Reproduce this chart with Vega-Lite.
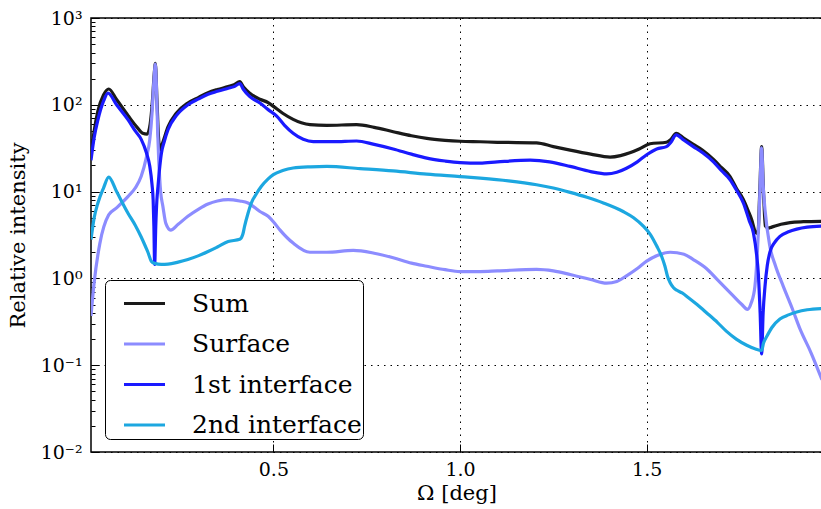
{
  "$schema": "https://vega.github.io/schema/vega-lite/v6.json",
  "width": 731,
  "height": 434,
  "autosize": {"type": "none"},
  "padding": {"left": 91, "top": 18, "right": 0, "bottom": 57},
  "background": "white",
  "config": {
    "view": {"stroke": "black", "strokeWidth": 1.5},
    "font": "DejaVu Serif"
  },
  "datasets": {
    "curves": [
      {"x":0.0115,"y":26,"s":"Sum"},{"x":0.02,"y":50,"s":"Sum"},{"x":0.03,"y":85,"s":"Sum"},{"x":0.045,"y":130,"s":"Sum"},{"x":0.059,"y":152,"s":"Sum"},{"x":0.08,"y":115,"s":"Sum"},{"x":0.111,"y":75,"s":"Sum"},{"x":0.135,"y":55,"s":"Sum"},{"x":0.15,"y":47,"s":"Sum"},{"x":0.162,"y":46,"s":"Sum"},{"x":0.17,"y":60,"s":"Sum"},{"x":0.176,"y":110,"s":"Sum"},{"x":0.181,"y":230,"s":"Sum"},{"x":0.184,"y":300,"s":"Sum"},{"x":0.188,"y":120,"s":"Sum"},{"x":0.192,"y":45,"s":"Sum"},{"x":0.196,"y":30,"s":"Sum"},{"x":0.203,"y":36,"s":"Sum"},{"x":0.218,"y":56,"s":"Sum"},{"x":0.24,"y":80,"s":"Sum"},{"x":0.271,"y":105,"s":"Sum"},{"x":0.3,"y":122,"s":"Sum"},{"x":0.325,"y":138,"s":"Sum"},{"x":0.35,"y":150,"s":"Sum"},{"x":0.379,"y":162,"s":"Sum"},{"x":0.395,"y":170,"s":"Sum"},{"x":0.41,"y":185,"s":"Sum"},{"x":0.42,"y":160,"s":"Sum"},{"x":0.437,"y":136,"s":"Sum"},{"x":0.464,"y":116,"s":"Sum"},{"x":0.486,"y":106,"s":"Sum"},{"x":0.5,"y":96,"s":"Sum"},{"x":0.525,"y":80,"s":"Sum"},{"x":0.553,"y":68,"s":"Sum"},{"x":0.575,"y":62,"s":"Sum"},{"x":0.598,"y":59,"s":"Sum"},{"x":0.643,"y":58,"s":"Sum"},{"x":0.723,"y":59,"s":"Sum"},{"x":0.77,"y":55,"s":"Sum"},{"x":0.821,"y":49,"s":"Sum"},{"x":0.87,"y":44,"s":"Sum"},{"x":0.911,"y":41,"s":"Sum"},{"x":0.96,"y":39,"s":"Sum"},{"x":1.0,"y":38,"s":"Sum"},{"x":1.054,"y":37.5,"s":"Sum"},{"x":1.1,"y":37,"s":"Sum"},{"x":1.205,"y":36.5,"s":"Sum"},{"x":1.25,"y":33,"s":"Sum"},{"x":1.295,"y":30,"s":"Sum"},{"x":1.35,"y":27,"s":"Sum"},{"x":1.402,"y":25,"s":"Sum"},{"x":1.43,"y":26,"s":"Sum"},{"x":1.455,"y":28,"s":"Sum"},{"x":1.48,"y":31,"s":"Sum"},{"x":1.509,"y":35.6,"s":"Sum"},{"x":1.553,"y":37,"s":"Sum"},{"x":1.565,"y":40,"s":"Sum"},{"x":1.579,"y":47,"s":"Sum"},{"x":1.6,"y":41,"s":"Sum"},{"x":1.625,"y":35,"s":"Sum"},{"x":1.65,"y":30,"s":"Sum"},{"x":1.679,"y":23.5,"s":"Sum"},{"x":1.7,"y":19,"s":"Sum"},{"x":1.723,"y":15,"s":"Sum"},{"x":1.74,"y":11,"s":"Sum"},{"x":1.759,"y":8.1,"s":"Sum"},{"x":1.772,"y":6,"s":"Sum"},{"x":1.781,"y":4.8,"s":"Sum"},{"x":1.792,"y":3.4,"s":"Sum"},{"x":1.798,"y":3.3,"s":"Sum"},{"x":1.803,"y":10,"s":"Sum"},{"x":1.808,"y":33,"s":"Sum"},{"x":1.813,"y":10,"s":"Sum"},{"x":1.818,"y":4.0,"s":"Sum"},{"x":1.826,"y":3.8,"s":"Sum"},{"x":1.835,"y":3.9,"s":"Sum"},{"x":1.86,"y":4.2,"s":"Sum"},{"x":1.884,"y":4.4,"s":"Sum"},{"x":1.92,"y":4.5,"s":"Sum"},{"x":1.9697,"y":4.55,"s":"Sum"},

      {"x":0.0115,"y":0.37,"s":"Surface"},{"x":0.02,"y":0.9,"s":"Surface"},{"x":0.035,"y":2.5,"s":"Surface"},{"x":0.059,"y":5.4,"s":"Surface"},{"x":0.08,"y":6.5,"s":"Surface"},{"x":0.111,"y":8.8,"s":"Surface"},{"x":0.13,"y":11,"s":"Surface"},{"x":0.146,"y":15,"s":"Surface"},{"x":0.16,"y":25,"s":"Surface"},{"x":0.169,"y":40,"s":"Surface"},{"x":0.175,"y":80,"s":"Surface"},{"x":0.178,"y":136,"s":"Surface"},{"x":0.181,"y":220,"s":"Surface"},{"x":0.184,"y":295,"s":"Surface"},{"x":0.187,"y":150,"s":"Surface"},{"x":0.19,"y":50,"s":"Surface"},{"x":0.193,"y":23,"s":"Surface"},{"x":0.198,"y":10,"s":"Surface"},{"x":0.204,"y":6.8,"s":"Surface"},{"x":0.212,"y":4.3,"s":"Surface"},{"x":0.225,"y":3.6,"s":"Surface"},{"x":0.245,"y":4.2,"s":"Surface"},{"x":0.271,"y":5.2,"s":"Surface"},{"x":0.3,"y":6.3,"s":"Surface"},{"x":0.325,"y":7.2,"s":"Surface"},{"x":0.35,"y":7.8,"s":"Surface"},{"x":0.379,"y":8.1,"s":"Surface"},{"x":0.41,"y":7.8,"s":"Surface"},{"x":0.432,"y":7.4,"s":"Surface"},{"x":0.464,"y":5.9,"s":"Surface"},{"x":0.486,"y":5.2,"s":"Surface"},{"x":0.5,"y":4.5,"s":"Surface"},{"x":0.518,"y":3.6,"s":"Surface"},{"x":0.553,"y":2.55,"s":"Surface"},{"x":0.598,"y":2.0,"s":"Surface"},{"x":0.643,"y":2.0,"s":"Surface"},{"x":0.714,"y":2.1,"s":"Surface"},{"x":0.77,"y":1.95,"s":"Surface"},{"x":0.821,"y":1.73,"s":"Surface"},{"x":0.87,"y":1.5,"s":"Surface"},{"x":0.911,"y":1.38,"s":"Surface"},{"x":0.96,"y":1.26,"s":"Surface"},{"x":1.0,"y":1.2,"s":"Surface"},{"x":1.054,"y":1.2,"s":"Surface"},{"x":1.1,"y":1.22,"s":"Surface"},{"x":1.205,"y":1.27,"s":"Surface"},{"x":1.25,"y":1.22,"s":"Surface"},{"x":1.295,"y":1.11,"s":"Surface"},{"x":1.35,"y":0.97,"s":"Surface"},{"x":1.393,"y":0.88,"s":"Surface"},{"x":1.42,"y":0.92,"s":"Surface"},{"x":1.446,"y":1.07,"s":"Surface"},{"x":1.475,"y":1.3,"s":"Surface"},{"x":1.5,"y":1.58,"s":"Surface"},{"x":1.53,"y":1.85,"s":"Surface"},{"x":1.563,"y":2.0,"s":"Surface"},{"x":1.6,"y":1.9,"s":"Surface"},{"x":1.625,"y":1.65,"s":"Surface"},{"x":1.66,"y":1.3,"s":"Surface"},{"x":1.688,"y":0.98,"s":"Surface"},{"x":1.732,"y":0.63,"s":"Surface"},{"x":1.755,"y":0.5,"s":"Surface"},{"x":1.77,"y":0.44,"s":"Surface"},{"x":1.78,"y":0.52,"s":"Surface"},{"x":1.79,"y":0.81,"s":"Surface"},{"x":1.796,"y":1.8,"s":"Surface"},{"x":1.8,"y":4,"s":"Surface"},{"x":1.804,"y":12,"s":"Surface"},{"x":1.808,"y":32,"s":"Surface"},{"x":1.812,"y":12,"s":"Surface"},{"x":1.817,"y":6.2,"s":"Surface"},{"x":1.83,"y":2.35,"s":"Surface"},{"x":1.845,"y":1.4,"s":"Surface"},{"x":1.866,"y":0.81,"s":"Surface"},{"x":1.89,"y":0.45,"s":"Surface"},{"x":1.911,"y":0.26,"s":"Surface"},{"x":1.94,"y":0.14,"s":"Surface"},{"x":1.9697,"y":0.068,"s":"Surface"},

      {"x":0.0115,"y":23,"s":"1st interface"},{"x":0.02,"y":42,"s":"1st interface"},{"x":0.03,"y":67,"s":"1st interface"},{"x":0.045,"y":110,"s":"1st interface"},{"x":0.057,"y":136,"s":"1st interface"},{"x":0.08,"y":100,"s":"1st interface"},{"x":0.111,"y":67,"s":"1st interface"},{"x":0.13,"y":50,"s":"1st interface"},{"x":0.146,"y":40,"s":"1st interface"},{"x":0.16,"y":28,"s":"1st interface"},{"x":0.169,"y":19.6,"s":"1st interface"},{"x":0.175,"y":12,"s":"1st interface"},{"x":0.178,"y":8,"s":"1st interface"},{"x":0.18,"y":4,"s":"1st interface"},{"x":0.182,"y":1.45,"s":"1st interface"},{"x":0.185,"y":4,"s":"1st interface"},{"x":0.188,"y":8,"s":"1st interface"},{"x":0.191,"y":11.5,"s":"1st interface"},{"x":0.195,"y":18,"s":"1st interface"},{"x":0.2,"y":27.5,"s":"1st interface"},{"x":0.208,"y":38,"s":"1st interface"},{"x":0.218,"y":52,"s":"1st interface"},{"x":0.24,"y":75,"s":"1st interface"},{"x":0.271,"y":100,"s":"1st interface"},{"x":0.3,"y":117,"s":"1st interface"},{"x":0.325,"y":132,"s":"1st interface"},{"x":0.35,"y":143,"s":"1st interface"},{"x":0.379,"y":155,"s":"1st interface"},{"x":0.395,"y":162,"s":"1st interface"},{"x":0.41,"y":175,"s":"1st interface"},{"x":0.42,"y":150,"s":"1st interface"},{"x":0.437,"y":124,"s":"1st interface"},{"x":0.464,"y":105,"s":"1st interface"},{"x":0.486,"y":88,"s":"1st interface"},{"x":0.509,"y":74,"s":"1st interface"},{"x":0.53,"y":58,"s":"1st interface"},{"x":0.553,"y":47,"s":"1st interface"},{"x":0.58,"y":40,"s":"1st interface"},{"x":0.607,"y":37.6,"s":"1st interface"},{"x":0.66,"y":37.6,"s":"1st interface"},{"x":0.723,"y":38.3,"s":"1st interface"},{"x":0.77,"y":35,"s":"1st interface"},{"x":0.821,"y":31,"s":"1st interface"},{"x":0.87,"y":27,"s":"1st interface"},{"x":0.911,"y":24.3,"s":"1st interface"},{"x":0.96,"y":22.5,"s":"1st interface"},{"x":1.0,"y":21.6,"s":"1st interface"},{"x":1.054,"y":21.3,"s":"1st interface"},{"x":1.1,"y":22,"s":"1st interface"},{"x":1.188,"y":23,"s":"1st interface"},{"x":1.24,"y":22,"s":"1st interface"},{"x":1.295,"y":19.5,"s":"1st interface"},{"x":1.35,"y":17,"s":"1st interface"},{"x":1.393,"y":16,"s":"1st interface"},{"x":1.42,"y":16.7,"s":"1st interface"},{"x":1.446,"y":18.6,"s":"1st interface"},{"x":1.475,"y":22,"s":"1st interface"},{"x":1.5,"y":26.6,"s":"1st interface"},{"x":1.527,"y":31,"s":"1st interface"},{"x":1.553,"y":33,"s":"1st interface"},{"x":1.565,"y":37,"s":"1st interface"},{"x":1.579,"y":45,"s":"1st interface"},{"x":1.6,"y":39,"s":"1st interface"},{"x":1.625,"y":33,"s":"1st interface"},{"x":1.65,"y":28,"s":"1st interface"},{"x":1.679,"y":22,"s":"1st interface"},{"x":1.7,"y":17.5,"s":"1st interface"},{"x":1.723,"y":13.8,"s":"1st interface"},{"x":1.74,"y":10.5,"s":"1st interface"},{"x":1.759,"y":7.4,"s":"1st interface"},{"x":1.775,"y":4.6,"s":"1st interface"},{"x":1.786,"y":3.35,"s":"1st interface"},{"x":1.795,"y":1.8,"s":"1st interface"},{"x":1.799,"y":1.16,"s":"1st interface"},{"x":1.804,"y":0.4,"s":"1st interface"},{"x":1.808,"y":0.135,"s":"1st interface"},{"x":1.812,"y":0.4,"s":"1st interface"},{"x":1.817,"y":0.81,"s":"1st interface"},{"x":1.823,"y":1.4,"s":"1st interface"},{"x":1.83,"y":2.0,"s":"1st interface"},{"x":1.843,"y":2.6,"s":"1st interface"},{"x":1.857,"y":3.05,"s":"1st interface"},{"x":1.88,"y":3.45,"s":"1st interface"},{"x":1.902,"y":3.7,"s":"1st interface"},{"x":1.93,"y":3.9,"s":"1st interface"},{"x":1.9697,"y":4.0,"s":"1st interface"},

      {"x":0.0115,"y":2.8,"s":"2nd interface"},{"x":0.02,"y":5.0,"s":"2nd interface"},{"x":0.03,"y":7.4,"s":"2nd interface"},{"x":0.045,"y":11,"s":"2nd interface"},{"x":0.059,"y":14.7,"s":"2nd interface"},{"x":0.08,"y":10,"s":"2nd interface"},{"x":0.111,"y":5.6,"s":"2nd interface"},{"x":0.13,"y":4.1,"s":"2nd interface"},{"x":0.146,"y":3.0,"s":"2nd interface"},{"x":0.158,"y":2.3,"s":"2nd interface"},{"x":0.164,"y":2.0,"s":"2nd interface"},{"x":0.173,"y":1.58,"s":"2nd interface"},{"x":0.182,"y":1.49,"s":"2nd interface"},{"x":0.2,"y":1.45,"s":"2nd interface"},{"x":0.218,"y":1.46,"s":"2nd interface"},{"x":0.245,"y":1.54,"s":"2nd interface"},{"x":0.271,"y":1.65,"s":"2nd interface"},{"x":0.3,"y":1.83,"s":"2nd interface"},{"x":0.325,"y":2.04,"s":"2nd interface"},{"x":0.35,"y":2.3,"s":"2nd interface"},{"x":0.379,"y":2.66,"s":"2nd interface"},{"x":0.41,"y":2.82,"s":"2nd interface"},{"x":0.418,"y":3.2,"s":"2nd interface"},{"x":0.423,"y":4.0,"s":"2nd interface"},{"x":0.432,"y":5.6,"s":"2nd interface"},{"x":0.441,"y":7.4,"s":"2nd interface"},{"x":0.455,"y":9.5,"s":"2nd interface"},{"x":0.468,"y":11.5,"s":"2nd interface"},{"x":0.486,"y":14,"s":"2nd interface"},{"x":0.5,"y":15.7,"s":"2nd interface"},{"x":0.525,"y":17.5,"s":"2nd interface"},{"x":0.553,"y":18.7,"s":"2nd interface"},{"x":0.6,"y":19.3,"s":"2nd interface"},{"x":0.643,"y":19.5,"s":"2nd interface"},{"x":0.732,"y":18.4,"s":"2nd interface"},{"x":0.821,"y":17.3,"s":"2nd interface"},{"x":0.911,"y":15.9,"s":"2nd interface"},{"x":1.0,"y":14.9,"s":"2nd interface"},{"x":1.054,"y":14.3,"s":"2nd interface"},{"x":1.13,"y":13.3,"s":"2nd interface"},{"x":1.205,"y":12,"s":"2nd interface"},{"x":1.25,"y":11,"s":"2nd interface"},{"x":1.295,"y":9.8,"s":"2nd interface"},{"x":1.34,"y":8.6,"s":"2nd interface"},{"x":1.384,"y":7.4,"s":"2nd interface"},{"x":1.437,"y":5.9,"s":"2nd interface"},{"x":1.465,"y":5,"s":"2nd interface"},{"x":1.491,"y":4.0,"s":"2nd interface"},{"x":1.51,"y":3.2,"s":"2nd interface"},{"x":1.527,"y":2.36,"s":"2nd interface"},{"x":1.54,"y":1.8,"s":"2nd interface"},{"x":1.549,"y":1.38,"s":"2nd interface"},{"x":1.556,"y":1.05,"s":"2nd interface"},{"x":1.563,"y":0.89,"s":"2nd interface"},{"x":1.572,"y":0.78,"s":"2nd interface"},{"x":1.581,"y":0.73,"s":"2nd interface"},{"x":1.595,"y":0.68,"s":"2nd interface"},{"x":1.612,"y":0.6,"s":"2nd interface"},{"x":1.635,"y":0.5,"s":"2nd interface"},{"x":1.661,"y":0.4,"s":"2nd interface"},{"x":1.69,"y":0.31,"s":"2nd interface"},{"x":1.714,"y":0.245,"s":"2nd interface"},{"x":1.74,"y":0.2,"s":"2nd interface"},{"x":1.768,"y":0.17,"s":"2nd interface"},{"x":1.79,"y":0.155,"s":"2nd interface"},{"x":1.808,"y":0.148,"s":"2nd interface"},{"x":1.813,"y":0.18,"s":"2nd interface"},{"x":1.822,"y":0.215,"s":"2nd interface"},{"x":1.835,"y":0.27,"s":"2nd interface"},{"x":1.857,"y":0.34,"s":"2nd interface"},{"x":1.88,"y":0.38,"s":"2nd interface"},{"x":1.902,"y":0.41,"s":"2nd interface"},{"x":1.93,"y":0.435,"s":"2nd interface"},{"x":1.9697,"y":0.45,"s":"2nd interface"}
    ]
  },
  "data": {"name": "curves"},
  "mark": {"type": "line", "strokeWidth": 3.2, "interpolate": "monotone", "clip": true, "strokeCap": "butt", "strokeJoin": "round"},
  "encoding": {
    "x": {
      "field": "x", "type": "quantitative",
      "scale": {"domain": [0.0115, 1.9697], "nice": false, "zero": false},
      "axis": {
        "title": "Ω [deg]", "values": [0.5, 1.0, 1.5], "format": ".1f",
        "domain": false, "grid": true, "gridColor": "black", "gridDash": [1.5, 5], "gridWidth": 1, "gridOpacity": 1,
        "tickSize": -8, "tickColor": "black", "tickWidth": 1,
        "labelFontSize": 19, "labelColor": "black", "labelPadding": 16,
        "titleFontSize": 21, "titleFontWeight": "normal", "titleColor": "black", "titlePadding": 3
      }
    },
    "y": {
      "field": "y", "type": "quantitative",
      "scale": {"type": "log", "domain": [0.01, 1000], "nice": false},
      "axis": {
        "title": "Relative intensity",
        "values": [0.01,0.02,0.03,0.04,0.05,0.06,0.07,0.08,0.09,0.1,0.2,0.3,0.4,0.5,0.6,0.7,0.8,0.9,1,2,3,4,5,6,7,8,9,10,20,30,40,50,60,70,80,90,100,200,300,400,500,600,700,800,900,1000],
        "labelExpr": "datum.value==1000?'10³':datum.value==100?'10²':datum.value==10?'10¹':datum.value==1?'10⁰':datum.value==0.1?'10⁻¹':datum.value==0.01?'10⁻²':''",
        "labelOverlap": false,
        "domain": false, "grid": true, "gridColor": "black", "gridDash": [1.5, 5], "gridWidth": 1,
        "gridOpacity": {"condition": {"test": "indexof([0.01,0.1,1,10,100,1000], datum.value) >= 0", "value": 1}, "value": 0},
        "tickSize": {"condition": {"test": "indexof([0.01,0.1,1,10,100,1000], datum.value) >= 0", "value": -8}, "value": -4},
        "tickColor": "black", "tickWidth": 1,
        "labelFontSize": 19, "labelColor": "black", "labelPadding": 17,
        "titleFontSize": 21, "titleFontWeight": "normal", "titleColor": "black", "titlePadding": 12
      }
    },
    "color": {
      "field": "s", "type": "nominal",
      "scale": {"domain": ["Sum", "Surface", "1st interface", "2nd interface"], "range": ["#1a1a1a", "#8c8cff", "#1a1aff", "#1ca7e0"]},
      "legend": {
        "orient": "none", "legendX": 14, "legendY": 262, "title": null,
        "symbolType": "stroke", "symbolSize": 1681, "symbolStrokeWidth": 3.2,
        "labelFontSize": 25, "labelColor": "black", "labelLimit": 400,
        "strokeColor": "black", "fillColor": "white", "padding": 1, "cornerRadius": 5,
        "rowPadding": 4.5, "labelOffset": 25, "symbolOffset": 16
      }
    }
  }
}
